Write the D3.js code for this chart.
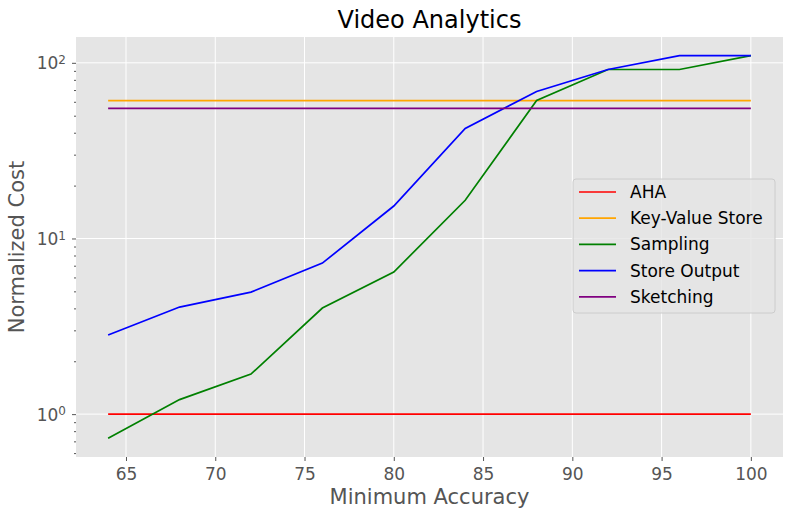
<!DOCTYPE html>
<html>
<head>
<meta charset="utf-8">
<script src="https://cdn.jsdelivr.net/npm/d3@7"></script>
<style>
  body { margin: 0; background: #fff; }
  text { font-family: "DejaVu Sans", sans-serif; }
</style>
</head>
<body>
<div id="chart"></div>
<script>
// data
const accuracy = [64, 68, 72, 76, 80, 84, 88, 92, 96, 100];
const aha = [1, 1, 1, 1, 1, 1, 1, 1, 1, 1];
const keyValue = [61, 61, 61, 61, 61, 61, 61, 61, 61, 61];
const sampling = [0.73, 1.21, 1.69, 4.02, 6.44, 16.5, 61, 91.6, 91.6, 110];
const storeOutput = [2.82, 4.07, 4.95, 7.24, 15.3, 42.3, 68.7, 91.6, 110, 110];
const sketching = [55, 55, 55, 55, 55, 55, 55, 55, 55, 55];
const xTicks = [65, 70, 75, 80, 85, 90, 95, 100];
const yTicks = [1, 10, 100];

const series = [
    { name: "AHA", color: "red", values: aha },
    { name: "Key-Value Store", color: "orange", values: keyValue },
    { name: "Sampling", color: "green", values: sampling },
    { name: "Store Output", color: "blue", values: storeOutput },
    { name: "Sketching", color: "purple", values: sketching }
];

let margin = { top: 37, right: 10, bottom: 62, left: 76 },
    width = 793 - margin.left - margin.right,
    height = 519 - margin.top - margin.bottom;

let svg = d3.select("#chart").append("svg")
    .attr("width", 793)
    .attr("height", 519)
    .append("g")
    .attr("transform", "translate(" + margin.left + "," + margin.top + ")");

// ggplot-ish background
svg.append("rect")
    .attr("width", width).attr("height", height)
    .attr("fill", "#e5e5e5");

let x = d3.scaleLinear().domain([62.2, 101.8]).range([0, width]);
let y = d3.scaleLog().domain([Math.pow(10, -0.244), Math.pow(10, 2.147)]).range([height, 0]);

// gridlines
svg.append("g").selectAll("line").data(xTicks).enter().append("line")
    .attr("x1", d => x(d)).attr("x2", d => x(d))
    .attr("y1", 0).attr("y2", height)
    .attr("stroke", "#fff").attr("stroke-width", 1);
svg.append("g").selectAll("line").data(yTicks).enter().append("line")
    .attr("x1", 0).attr("x2", width)
    .attr("y1", d => y(d)).attr("y2", d => y(d))
    .attr("stroke", "#fff").attr("stroke-width", 1);

// x axis
let xAxis = svg.append("g")
    .attr("transform", "translate(0," + height + ")")
    .call(d3.axisBottom(x).tickValues(xTicks).tickSize(4).tickPadding(7));
xAxis.select(".domain").remove();
xAxis.selectAll("line").attr("stroke", "#555");
xAxis.selectAll("text").attr("fill", "#555").style("font-size", "17px")
    .style("font-family", "DejaVu Sans");

// y axis, major + minor ticks
let minor = [];
for (let e = -1; e <= 2; e++) {
    for (let m = 2; m <= 9; m++) {
        let v = m * Math.pow(10, e);
        if (v >= y.domain()[0] && v <= y.domain()[1]) minor.push(v);
    }
}
let yMinor = svg.append("g")
    .call(d3.axisLeft(y).tickValues(minor).tickSize(2).tickFormat(""));
yMinor.select(".domain").remove();
yMinor.selectAll("line").attr("stroke", "#555");

let yAxis = svg.append("g")
    .call(d3.axisLeft(y).tickValues(yTicks).tickSize(4).tickPadding(4).tickFormat(""));
yAxis.select(".domain").remove();
yAxis.selectAll("line").attr("stroke", "#555");
yAxis.selectAll(".tick").each(function (d) {
    let t = d3.select(this).append("text")
        .attr("x", -10).attr("dy", "0.35em")
        .attr("text-anchor", "end")
        .attr("fill", "#555").style("font-size", "17px");
    t.append("tspan").text("10");
    t.append("tspan").attr("dy", "-0.45em").style("font-size", "12px")
        .text(Math.round(Math.log10(d)));
});

// lines
let line = d3.line()
    .x((d, i) => x(accuracy[i]))
    .y(d => y(d));

svg.append("g").selectAll("path").data(series).enter().append("path")
    .attr("d", d => line(d.values))
    .attr("fill", "none")
    .attr("stroke", d => d.color)
    .attr("stroke-width", 1.7);

// title & labels
svg.append("text")
    .attr("x", width / 2).attr("y", -9)
    .attr("text-anchor", "middle")
    .style("font-size", "24px").attr("fill", "#000")
    .text("Video Analytics");

svg.append("text")
    .attr("x", width / 2).attr("y", height + 47)
    .attr("text-anchor", "middle")
    .style("font-size", "21px").attr("fill", "#555")
    .text("Minimum Accuracy");

svg.append("text")
    .attr("transform", "translate(" + (-52) + "," + (height / 2) + ") rotate(-90)")
    .attr("text-anchor", "middle")
    .style("font-size", "21px").attr("fill", "#555")
    .text("Normalized Cost");

// legend
let lg = svg.append("g")
    .attr("transform", "translate(" + (573 - margin.left) + "," + (179 - margin.top) + ")");
lg.append("rect")
    .attr("width", 202).attr("height", 134)
    .attr("rx", 3)
    .attr("fill", "#e5e5e5").attr("fill-opacity", 0.8)
    .attr("stroke", "#ccc").attr("stroke-width", 1);
let items = lg.selectAll("g.item").data(series).enter().append("g")
    .attr("class", "item")
    .attr("transform", (d, i) => "translate(0," + (13 + i * 26.2) + ")");
items.append("line")
    .attr("x1", 6).attr("x2", 43)
    .attr("stroke", d => d.color).attr("stroke-width", 1.7);
items.append("text")
    .attr("x", 57).attr("dy", "0.35em")
    .style("font-size", "17px").attr("fill", "#000")
    .text(d => d.name);
</script>
</body>
</html>
